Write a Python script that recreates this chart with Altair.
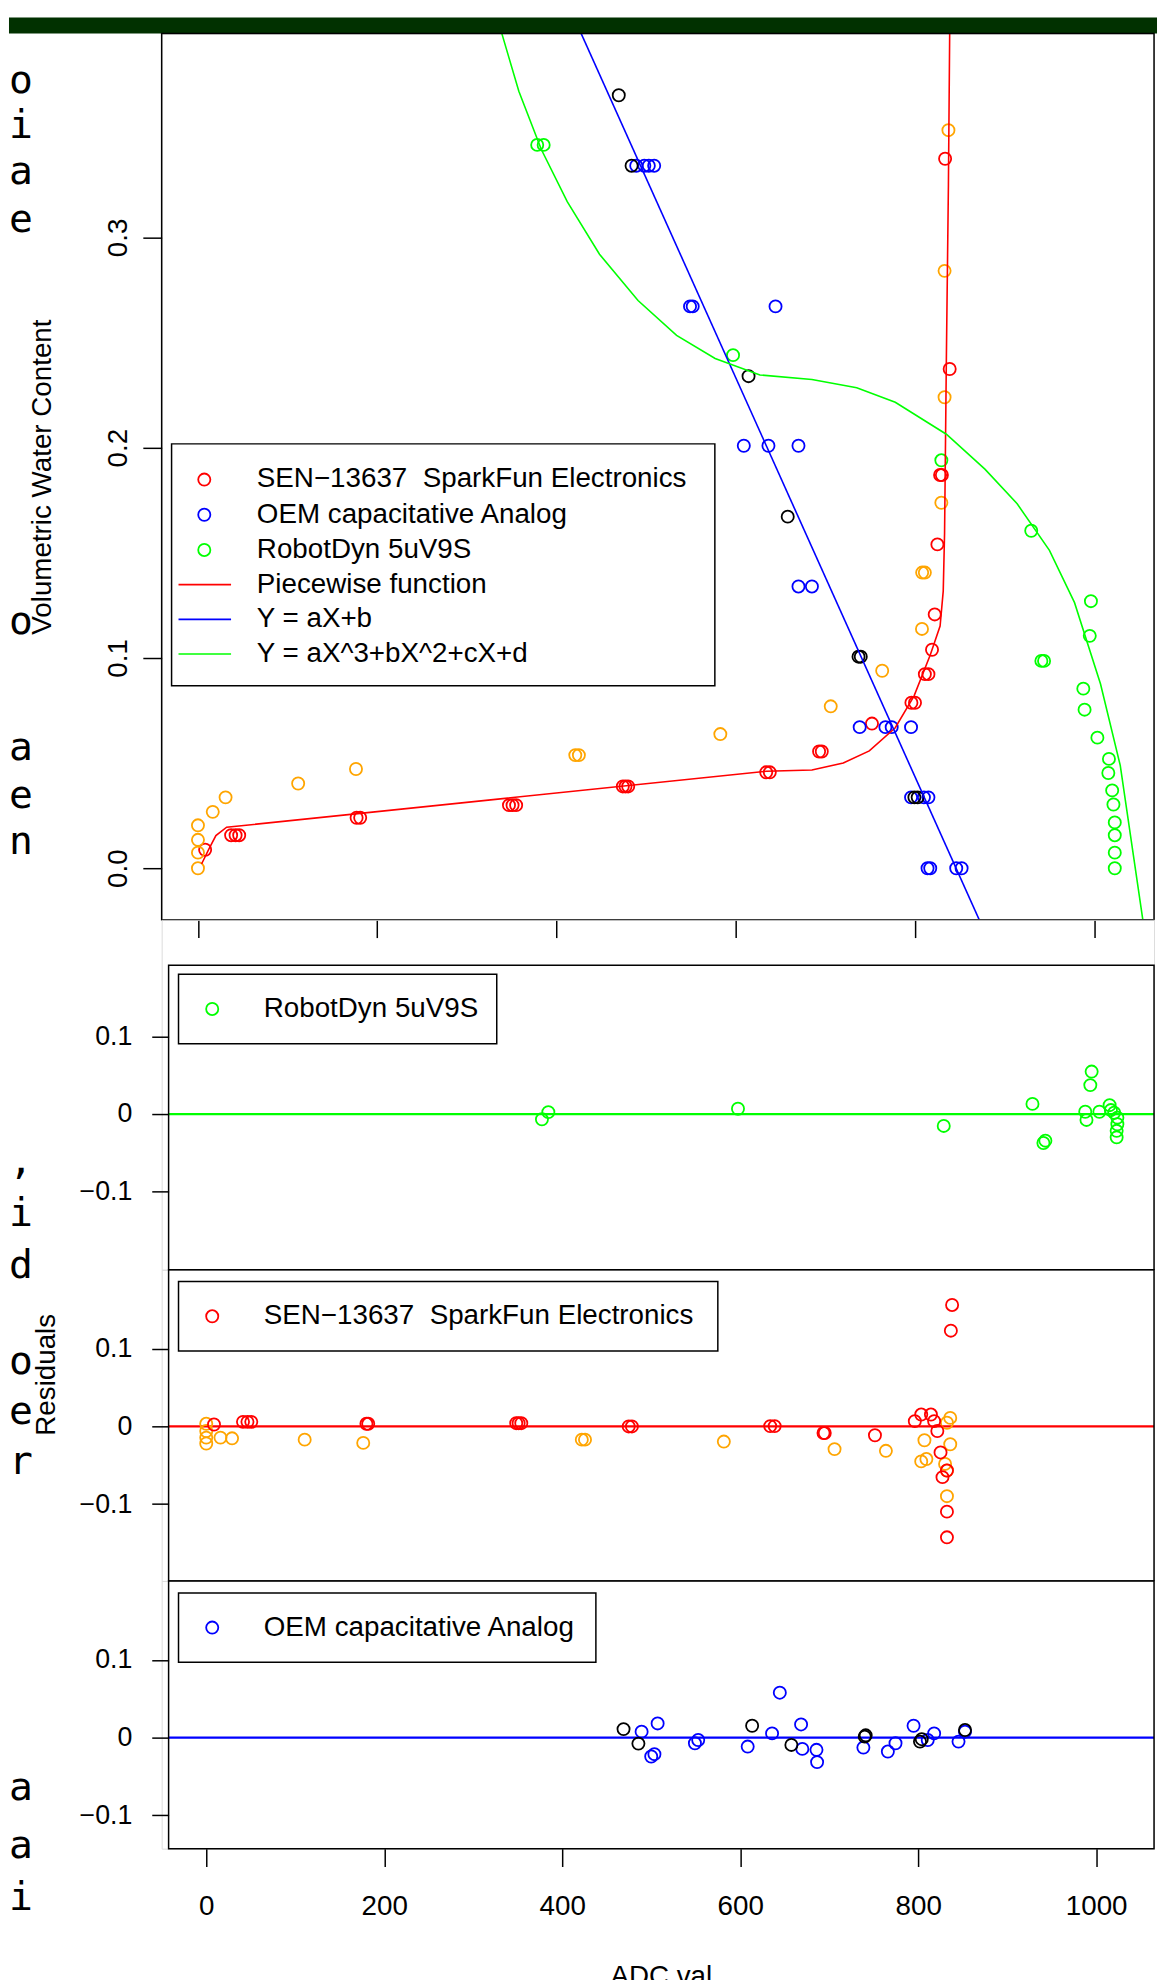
import altair as alt
import pandas as pd

# ---------------- data ----------------
# Top panel: ADC value vs volumetric water content
sen_x = [8, 37, 42, 46, 177, 181, 347, 351, 355, 474, 477, 480, 634, 638, 693, 696,
         752, 796, 800, 811, 815, 819, 822, 825, 828, 830, 838.7, 833.6]
sen_y = [0.0088, 0.0157, 0.0157, 0.0157, 0.024, 0.024, 0.030, 0.030, 0.030, 0.0389,
         0.0389, 0.0389, 0.0456, 0.0456, 0.0555, 0.0555, 0.0688, 0.0787, 0.0787,
         0.0923, 0.0923, 0.1039, 0.1207, 0.154, 0.187, 0.187, 0.2374, 0.3374]
sen2_x = [0, 0, 0, 0, 16.5, 30.8, 111.8, 176.3, 421, 425, 582.8, 706, 763.4, 807.8,
          808, 811, 829.4, 833, 833, 837.3]
sen2_y = [0.0, 0.0074, 0.0135, 0.0204, 0.0268, 0.0337, 0.0403, 0.0472, 0.0538, 0.0538,
          0.0638, 0.077, 0.0939, 0.1138, 0.1406, 0.1406, 0.1738, 0.224, 0.2841, 0.351]
oem_x = [489, 498, 503, 509, 549, 552, 644.4, 609, 636.5, 670, 670, 685, 738.3, 767,
         774, 795.6, 795.6, 810, 815, 814, 817, 846, 852]
oem_y = [0.3341, 0.3341, 0.3341, 0.3341, 0.2672, 0.2672, 0.2672, 0.2009, 0.2009, 0.2009,
         0.134, 0.134, 0.0671, 0.0671, 0.0671, 0.0671, 0.0337, 0.0337, 0.0337, 0.0, 0.0,
         0.0, 0.0]
oem2_x = [469.5, 483.8, 614.3, 658, 737, 739.5, 799.3, 803]
oem2_y = [0.3676, 0.3341, 0.234, 0.1672, 0.1006, 0.1006, 0.0337, 0.0337]
rd_x = [378.5, 385.7, 597, 829.4, 929.7, 941, 944, 996.3, 995, 987.8, 989.2, 1003.5,
        1016.4, 1015.7, 1020, 1021.4, 1022.9, 1022.9, 1022.9, 1022.9]
rd_y = [0.344, 0.344, 0.244, 0.194, 0.1605, 0.0986, 0.0986, 0.127, 0.1105, 0.0854,
        0.0754, 0.0621, 0.052, 0.0453, 0.037, 0.0303, 0.0218, 0.0157, 0.0074, 0.0]

# fitted curves
pw_x = [4, 12, 20, 32, 634, 685, 720, 749, 778, 799, 817, 828, 831.5, 833, 835, 837.3, 838.7, 839.5]
pw_y = [0.002, 0.009, 0.0155, 0.0195, 0.0461, 0.0467, 0.050, 0.0558, 0.0668, 0.082,
        0.1014, 0.1152, 0.1318, 0.1594, 0.2424, 0.3253, 0.397, 0.43]
lin_x = [400, 900]
lin_y = [0.4231, -0.0514]
cub_x = [330, 339, 358, 383, 412, 448, 491, 534, 577, 627, 685, 735, 778, 835, 878,
         914, 950, 978, 1007, 1029, 1054, 1060]
cub_y = [0.42, 0.397, 0.3695, 0.3419, 0.317, 0.292, 0.270, 0.2534, 0.2424, 0.2346,
         0.2324, 0.2285, 0.2216, 0.2064, 0.1898, 0.1733, 0.1512, 0.1263, 0.0876,
         0.0489, -0.024, -0.04]

# Residual panels
res_rd_x = [377.2, 384.4, 597.5, 828.7, 928.4, 940.7, 942.9, 994.9, 993.4, 987.7, 989.1,
            1003.6, 1015.1, 1016.5, 1020.2, 1023.8, 1023.8, 1023, 1023]
res_rd_y = [-0.0068, 0.0025, 0.0068, -0.0153, 0.0131, -0.0373, -0.0343, 0.0547, 0.0373,
            0.003, -0.0076, 0.003, 0.0114, 0.0051, 0.0017, -0.0047, -0.0131, -0.0216, -0.030]
res_sen_x = [8.7, 41.3, 46.3, 50.6, 180, 182, 348.3, 351, 354, 474.7, 478.3, 633.7, 638.7,
             693.6, 695, 751.4, 796.2, 803.4, 814.3, 817.9, 821.5, 825.1, 827.3, 832.3,
             832.3, 832.3, 838.1, 836.7]
res_sen_y = [0.0025, 0.0059, 0.0059, 0.0059, 0.0034, 0.0034, 0.0042, 0.0042, 0.0042, 0.0,
             0.0, 0.0004, 0.0004, -0.0085, -0.0085, -0.0114, 0.0068, 0.0153, 0.0153,
             0.0068, -0.0059, -0.0335, -0.0653, -0.0568, -0.1097, -0.1428, 0.1564, 0.1233]
res_sen2_x = [0, 0, 0, 0, 16, 29, 110.6, 176.4, 422, 425.6, 581.6, 706, 763.7, 836, 832.3,
              836, 830.2, 832.3, 832.3, 807, 809.2, 803.4]
res_sen2_y = [0.0034, -0.0059, -0.0144, -0.022, -0.0144, -0.0153, -0.017, -0.0212, -0.017,
              -0.017, -0.0195, -0.0292, -0.0314, 0.011, 0.0047, -0.0229, -0.0483, -0.0568,
              -0.0898, -0.0178, -0.042, -0.045]
res_oem_x = [489.2, 507.2, 500, 503.6, 549.1, 552.8, 608.4, 635.8, 644.5, 668.4, 669.8,
             685.7, 686.4, 738.4, 765.9, 774.5, 794.8, 810.7, 817.9, 845.3, 852.6]
res_oem_y = [0.0077, 0.0183, -0.0243, -0.0213, -0.0072, -0.003, -0.0115, 0.0055, 0.0579,
             0.017, -0.0145, -0.0157, -0.0315, -0.0128, -0.0179, -0.0072, 0.0153, -0.003,
             0.0055, -0.0051, 0.0077]
res_oem2_x = [468.9, 485.6, 613.4, 657.5, 739.9, 741, 802, 804, 852.6]
res_oem2_y = [0.011, -0.0077, 0.0153, -0.0094, 0.0013, 0.003, -0.0051, -0.002, 0.0098]

legend_labels = ["SEN\u221213637\u00a0 SparkFun Electronics", "OEM capacitative Analog",
                 "RobotDyn 5uV9S", "Piecewise function", "Y = aX+b", "Y = aX^3+bX^2+cX+d"]
x_ticks = [0, 200, 400, 600, 800, 1000]
top_y_ticks = [0.0, 0.1, 0.2, 0.3]
res_y_ticks = [-0.1, 0.0, 0.1]
slide_letters = ["o", "i", "a", "e", "o", "a", "e", "n", ",", "i", "d", "o", "e", "r", "a", "a", "i"]

# ---------------- styling / layout ----------------
FONT = "Liberation Sans"
FS = 28
W = 1001
TOP_H = 894
RED, BLUE, GREEN, ORANGE, BLACK = "#ff0000", "#0000ff", "#00ff00", "#ffa500", "#000000"
one = pd.DataFrame({"k": [0]})

sx_top = alt.Scale(domain=[-40.5, 1066.7], nice=False, zero=False)
sy_top = alt.Scale(domain=[-0.0245, 0.397], nice=False, zero=False)
sx_res = alt.Scale(domain=[-50.1, 1065.0], nice=False, zero=False)

ax_top_x = alt.Axis(values=x_ticks, labels=False, tickSize=18, tickWidth=1.5,
                    tickColor="black", domain=False, grid=False, title=None)
ax_top_y = alt.Axis(values=top_y_ticks, format=".1f", labelAngle=-90, labelAlign="center",
                    labelBaseline="bottom", labelPadding=10, labelFont=FONT,
                    labelFontSize=FS, labelColor="black", tickSize=19, tickWidth=1.5,
                    tickColor="black", domain=False, grid=False,
                    title="Volumetric Water Content", titleFont=FONT, titleFontSize=FS,
                    titleFontWeight="normal", titleColor="black", titleAngle=270,
                    titleX=-120, titleY=TOP_H / 2, titleAlign="center",
                    titleBaseline="middle")


def top_pts(xs, ys, color):
    df = pd.DataFrame({"x": xs, "y": ys})
    return alt.Chart(df).mark_point(shape="circle", filled=False, color=color, size=150,
                                    strokeWidth=1.8, opacity=1).encode(
        x=alt.X("x:Q", scale=sx_top, axis=ax_top_x),
        y=alt.Y("y:Q", scale=sy_top, axis=ax_top_y))


def top_line(xs, ys, color):
    df = pd.DataFrame({"x": xs, "y": ys, "o": list(range(len(xs)))})
    return alt.Chart(df).mark_line(color=color, strokeWidth=1.6, clip=True).encode(
        x=alt.X("x:Q", scale=sx_top, axis=ax_top_x),
        y=alt.Y("y:Q", scale=sy_top, axis=ax_top_y),
        order="o:Q")


layers = []
# title bar of the slide
layers.append(alt.Chart(one).mark_rect(color="#013100").encode(
    x=alt.value(-154), x2=alt.value(1004), y=alt.value(-16), y2=alt.value(0)))
layers += [top_pts(sen_x, sen_y, RED), top_pts(sen2_x, sen2_y, ORANGE),
           top_pts(oem_x, oem_y, BLUE), top_pts(oem2_x, oem2_y, BLACK),
           top_pts(rd_x, rd_y, GREEN)]
layers += [top_line(pw_x, pw_y, RED), top_line(lin_x, lin_y, BLUE),
           top_line(cub_x, cub_y, GREEN)]
# legend
layers.append(alt.Chart(one).mark_rect(fill="white", stroke="black", strokeWidth=1.5).encode(
    x=alt.value(10), x2=alt.value(558), y=alt.value(414), y2=alt.value(658)))
row_y = [450, 485.5, 521, 556, 591, 626]
leg_colors = [RED, BLUE, GREEN, RED, BLUE, GREEN]
for i, (lab, col) in enumerate(zip(legend_labels, leg_colors)):
    if i < 3:
        layers.append(alt.Chart(one).mark_point(shape="circle", filled=False, color=col,
                                                size=150, strokeWidth=1.8, opacity=1).encode(
            x=alt.value(43), y=alt.value(row_y[i])))
    else:
        layers.append(alt.Chart(one).mark_rule(color=col, strokeWidth=1.6).encode(
            x=alt.value(17), x2=alt.value(70), y=alt.value(row_y[i])))
    layers.append(alt.Chart(one).mark_text(text=lab, align="left", baseline="middle",
                                           font=FONT, fontSize=FS, color="black").encode(
        x=alt.value(96), y=alt.value(row_y[i])))
# frame
layers.append(alt.Chart(one).mark_rect(fill=None, stroke="black", strokeWidth=1.5).encode(
    x=alt.value(0), x2=alt.value(W), y=alt.value(0), y2=alt.value(TOP_H)))
# slide text fragments at the left edge (page y of each line centre)
letter_page_y = [72, 117, 164, 212, 618, 745, 793, 840, 1162, 1215, 1267, 1364, 1415, 1465,
                 1794, 1852, 1905]
for ch, py in zip(slide_letters, letter_page_y):
    layers.append(alt.Chart(one).mark_text(text=ch, align="left", baseline="middle",
                                           font="DejaVu Sans Mono", fontSize=40,
                                           color="black").encode(
        x=alt.value(-154), y=alt.value(py - 24)))

top = alt.layer(*layers).properties(width=W, height=TOP_H)


# ---------------- residual panels ----------------
def res_panel(h, ydom, series, line_color, legend_text, legend_top, x_axis, extra=None):
    sy = alt.Scale(domain=ydom, nice=False, zero=False)
    ax_y = alt.Axis(values=res_y_ticks, format=".1~f", tickSize=17, tickWidth=1.5,
                    tickColor="black", offset=-7, labelPadding=20, labelFont=FONT,
                    labelFontSize=FS - 1, labelColor="black", domain=False, grid=False,
                    title=None)
    if x_axis:
        ax_x = alt.Axis(values=x_ticks, format="d", tickSize=18, tickWidth=1.5,
                        tickColor="black", labelPadding=26, labelFont=FONT,
                        labelFontSize=FS, labelColor="black", domain=False, grid=False,
                        title=None)
    else:
        ax_x = None
    ls = []
    frame_top = h[1]
    ls.append(alt.Chart(pd.DataFrame({"y": [0.0]})).mark_rule(
        color=line_color, strokeWidth=2.2).encode(
        y=alt.Y("y:Q", scale=sy, axis=ax_y), x=alt.value(7), x2=alt.value(W)))
    for xs, ys, col in series:
        df = pd.DataFrame({"x": xs, "y": ys})
        ls.append(alt.Chart(df).mark_point(shape="circle", filled=False, color=col,
                                           size=150, strokeWidth=1.8, opacity=1).encode(
            x=alt.X("x:Q", scale=sx_res, axis=ax_x),
            y=alt.Y("y:Q", scale=sy, axis=ax_y)))
    # legend box
    bw = {"RobotDyn 5uV9S": 338, "OEM capacitative Analog": 438}.get(legend_text, 561)
    ls.append(alt.Chart(one).mark_rect(fill="white", stroke="black", strokeWidth=1.5).encode(
        x=alt.value(17), x2=alt.value(bw), y=alt.value(legend_top),
        y2=alt.value(legend_top + 70)))
    ls.append(alt.Chart(one).mark_point(shape="circle", filled=False, color=line_color,
                                        size=150, strokeWidth=1.8, opacity=1).encode(
        x=alt.value(51), y=alt.value(legend_top + 35)))
    ls.append(alt.Chart(one).mark_text(text=legend_text, align="left", baseline="middle",
                                       font=FONT, fontSize=FS, color="black").encode(
        x=alt.value(103), y=alt.value(legend_top + 35)))
    # frame
    ls.append(alt.Chart(one).mark_rect(fill=None, stroke="black", strokeWidth=1.5).encode(
        x=alt.value(7), x2=alt.value(W), y=alt.value(frame_top), y2=alt.value(h[0])))
    if extra:
        ls += extra
    return alt.layer(*ls).properties(width=W, height=h[0])


residuals_title = alt.Chart(one).mark_text(text="Residuals", angle=270, align="center",
                                           baseline="middle", font=FONT, fontSize=FS,
                                           color="black").encode(
    x=alt.value(-116), y=alt.value(106))
adc_title = alt.Chart(one).mark_text(text="ADC val", align="center", baseline="top",
                                     font=FONT, fontSize=FS, color="black").encode(
    x=alt.value(504), y=alt.value(386))

r1 = res_panel((353, 46), [-0.2005, 0.2503], [(res_rd_x, res_rd_y, GREEN)], GREEN,
               "RobotDyn 5uV9S", 55, False)
r2 = res_panel((314, 0), [-0.199, 0.2018],
               [(res_sen2_x, res_sen2_y, ORANGE), (res_sen_x, res_sen_y, RED)], RED,
               legend_labels[0], 12, False, extra=[residuals_title])
r3 = res_panel((270, 0), [-0.143, 0.2018],
               [(res_oem_x, res_oem_y, BLUE), (res_oem2_x, res_oem2_y, BLACK)], BLUE,
               "OEM capacitative Analog", 12, True, extra=[adc_title])

chart = alt.VConcatChart(vconcat=[top, r1, r2, r3], spacing=0, bounds="flush",
                         padding=0).resolve_scale(
    x="independent", y="independent").configure_view(
    stroke=None).configure(background="white")

chart.save("out.html", embed_options={"renderer": "svg", "actions": False})
